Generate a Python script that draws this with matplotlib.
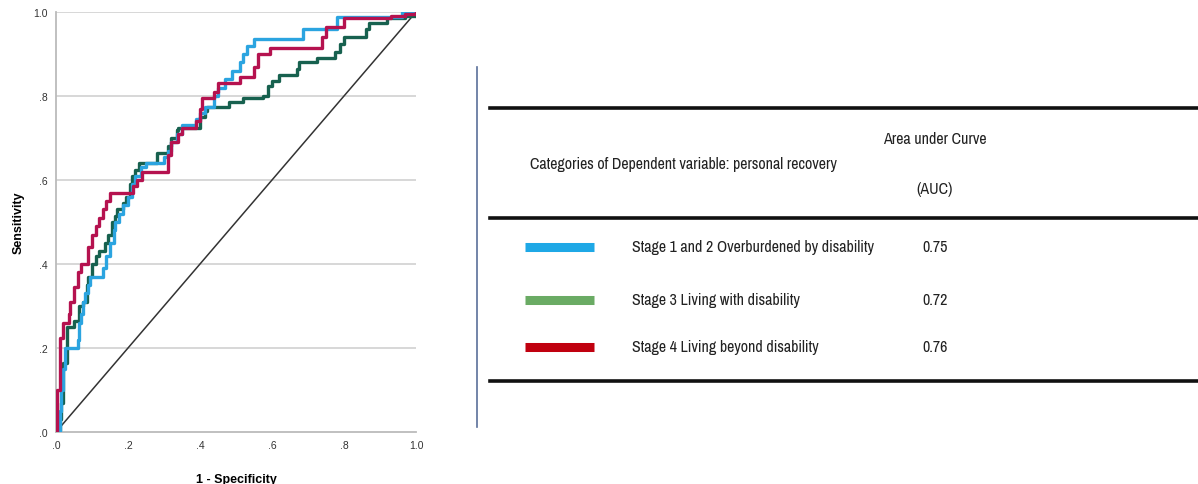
import matplotlib
matplotlib.use("Agg")
import matplotlib.pyplot as plt
from matplotlib.lines import Line2D

# ROC step points: (1 - specificity, sensitivity), level starts at x
blue_fpr = [0, 0.01, 0.015, 0.02, 0.025, 0.06, 0.065, 0.07, 0.075, 0.08, 0.09, 0.095,
            0.13, 0.14, 0.15, 0.16, 0.165, 0.175, 0.185, 0.20, 0.21, 0.22, 0.235, 0.25,
            0.30, 0.31, 0.32, 0.335, 0.35, 0.39, 0.40, 0.415, 0.44, 0.45, 0.47, 0.49,
            0.51, 0.52, 0.53, 0.55, 0.685, 0.78, 0.96, 1.0]
blue_tpr = [0, 0.05, 0.10, 0.15, 0.20, 0.22, 0.26, 0.28, 0.31, 0.33, 0.35, 0.37,
            0.39, 0.42, 0.45, 0.48, 0.50, 0.52, 0.54, 0.56, 0.59, 0.61, 0.63, 0.64,
            0.655, 0.67, 0.69, 0.71, 0.73, 0.745, 0.76, 0.775, 0.80, 0.82, 0.84, 0.86,
            0.88, 0.90, 0.92, 0.935, 0.96, 0.988, 1.0, 1.0]

green_fpr = [0, 0.01, 0.015, 0.02, 0.03, 0.05, 0.065, 0.075, 0.085, 0.09, 0.10, 0.11,
             0.12, 0.135, 0.145, 0.155, 0.165, 0.17, 0.185, 0.195, 0.205, 0.21, 0.22,
             0.23, 0.28, 0.31, 0.32, 0.335, 0.34, 0.40, 0.415, 0.42, 0.48, 0.52, 0.575,
             0.59, 0.60, 0.62, 0.67, 0.675, 0.725, 0.775, 0.79, 0.80, 0.86, 0.87, 0.92,
             0.97, 1.0]
green_tpr = [0, 0.03, 0.07, 0.165, 0.25, 0.265, 0.30, 0.31, 0.35, 0.37, 0.40, 0.42,
             0.43, 0.45, 0.47, 0.50, 0.515, 0.53, 0.545, 0.56, 0.59, 0.61, 0.625,
             0.64, 0.665, 0.68, 0.70, 0.72, 0.725, 0.75, 0.765, 0.775, 0.785, 0.795, 0.80,
             0.825, 0.835, 0.85, 0.865, 0.88, 0.89, 0.905, 0.925, 0.94, 0.96, 0.975, 0.985,
             0.99, 1.0]

red_fpr = [0, 0.003, 0.01, 0.02, 0.035, 0.04, 0.05, 0.06, 0.07, 0.09, 0.10, 0.11,
           0.12, 0.13, 0.14, 0.15, 0.215, 0.225, 0.24, 0.31, 0.32, 0.34, 0.35, 0.39,
           0.40, 0.405, 0.44, 0.45, 0.51, 0.55, 0.56, 0.595, 0.74, 0.75, 0.80, 0.93,
           0.97, 1.0]
red_tpr = [0, 0.10, 0.225, 0.26, 0.28, 0.31, 0.345, 0.38, 0.40, 0.44, 0.47, 0.49,
           0.51, 0.53, 0.55, 0.57, 0.585, 0.60, 0.62, 0.66, 0.69, 0.71, 0.725, 0.74,
           0.77, 0.795, 0.81, 0.83, 0.845, 0.87, 0.90, 0.915, 0.94, 0.965, 0.985, 0.99,
           0.995, 1.0]

ticks = [0, 0.2, 0.4, 0.6, 0.8, 1.0]
tick_labels = [".0", ".2", ".4", ".6", ".8", "1.0"]

groups = ["Stage 1 and 2 Overburdened by disability",
          "Stage 3 Living with disability",
          "Stage 4 Living beyond disability"]
auc = ["0.75", "0.72", "0.76"]
swatch_colors = ["#1ea8e6", "#6aab64", "#c0000f"]

W, H = 1198, 485
fig = plt.figure(figsize=(W / 100, H / 100), dpi=100)
arial = ["Liberation Sans", "DejaVu Sans"]
narrow = ["Liberation Sans Narrow", "Archivo Narrow", "DejaVu Sans"]

ax = fig.add_axes([56 / W, 52 / H, 360 / W, 420 / H])
for y in ticks[1:]:
    ax.axhline(y, color="#d4d4d4", lw=1.3, zorder=0)
ax.plot([0, 1], [0, 1], color="#333333", lw=1.1, zorder=1)
ax.plot(green_fpr, green_tpr, drawstyle="steps-post", color="#17614f", lw=2.4, zorder=2)
ax.plot(blue_fpr, blue_tpr, drawstyle="steps-post", color="#2ba4e0", lw=2.4, zorder=3)
ax.plot(red_fpr, red_tpr, drawstyle="steps-post", color="#b5124f", lw=2.4, zorder=4)

ax.set_xlim(0, 1)
ax.set_ylim(0, 1)
ax.set_xticks(ticks)
ax.set_xticklabels(tick_labels, family=arial)
ax.set_yticks(ticks)
ax.set_yticklabels(tick_labels, family=arial)
ax.tick_params(length=0, labelsize=7.5, colors="#333333", pad=6)
for s in ["top", "right"]:
    ax.spines[s].set_visible(False)
for s in ["left", "bottom"]:
    ax.spines[s].set_color("#bbbbbb")
    ax.spines[s].set_linewidth(1.3)
ax.set_xlabel("1 - Specificity", fontsize=9, fontweight="bold", family=arial, labelpad=16)
ax.set_ylabel("Sensitivity", fontsize=9, fontweight="bold", family=arial, labelpad=6)

# right-hand table, drawn in pixel coordinates
tx = fig.add_axes([0, 0, 1, 1])
tx.set_xlim(0, W)
tx.set_ylim(H, 0)
tx.axis("off")
tx.patch.set_alpha(0)

tx.add_line(Line2D([477, 477], [68, 428], color="#5a6f9a", lw=1.2))
for y in [109, 219, 382]:
    tx.add_line(Line2D([490, W], [y, y], color="#111111", lw=2.6))

fs = 11.5
tx.text(683, 165, "Categories of Dependent variable: personal recovery",
        ha="center", va="center", fontsize=fs, family=narrow, color="#222222")
tx.text(935, 140, "Area under Curve", ha="center", va="center", fontsize=fs,
        family=narrow, color="#222222")
tx.text(935, 190, "(AUC)", ha="center", va="center", fontsize=fs, family=narrow,
        color="#222222")

row_y = [248, 301, 348]
for name, val, col, y in zip(groups, auc, swatch_colors, row_y):
    tx.add_line(Line2D([525, 594], [y, y], color=col, lw=6.5, solid_capstyle="butt"))
    tx.text(632, y, name, ha="left", va="center", fontsize=fs, family=narrow, color="#222222")
    tx.text(935, y, val, ha="center", va="center", fontsize=fs, family=narrow, color="#222222")

fig.savefig("out.png", dpi=100)
